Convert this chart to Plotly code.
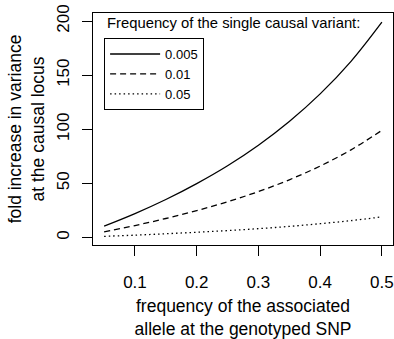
import plotly.graph_objects as go

# frequency of the associated allele at the genotyped SNP
snp_freq = [0.05, 0.10, 0.15, 0.20, 0.25, 0.30, 0.35, 0.40, 0.45, 0.50]
# fold increase in variance, by causal variant frequency
fold_0005 = [10.5, 22.1, 35.1, 49.8, 66.3, 85.3, 107.2, 132.7, 162.8, 199.0]
fold_001 = [5.2, 11.0, 17.5, 24.8, 33.0, 42.4, 53.3, 66.0, 81.0, 99.0]
fold_005 = [1.0, 2.1, 3.4, 4.8, 6.3, 8.1, 10.2, 12.7, 15.5, 19.0]
series_names = ["0.005", "0.01", "0.05"]
x_ticks = [0.1, 0.2, 0.3, 0.4, 0.5]
y_ticks = [0, 50, 100, 150, 200]

FONT = "Liberation Sans, Arial, Helvetica, sans-serif"

fig = go.Figure()
styles = ["solid", "6px,4px", "1.5px,3px"]
for name, ys, dash in zip(series_names, [fold_0005, fold_001, fold_005], styles):
    fig.add_trace(go.Scatter(
        x=snp_freq, y=ys, mode="lines", name=name,
        line=dict(color="black", width=1.3, dash=dash, shape="spline"),
    ))

axis_common = dict(
    showline=True, linecolor="black", linewidth=1, mirror=True,
    ticks="outside", ticklen=10, tickwidth=1, tickcolor="black",
    showgrid=False, zeroline=False,
    tickfont=dict(family=FONT, size=17, color="black"),
    title_font=dict(family=FONT, size=17.5, color="black"),
)

fig.update_layout(
    width=394, height=339,
    margin=dict(l=93, r=1, t=13, b=94),
    paper_bgcolor="white", plot_bgcolor="white",
    font=dict(family=FONT, color="black"),
    xaxis=dict(range=[0.032, 0.518], tickvals=x_ticks, ticktext=[str(v) for v in x_ticks],
               ticklabelstandoff=12,
               title=dict(text="frequency of the associated<br>allele at the genotyped SNP", standoff=8),
               **axis_common),
    yaxis=dict(range=[-7, 207.5], tickvals=y_ticks, tickangle=-90,
               ticklabelstandoff=6,
               title=dict(text="fold increase in variance<br>at the causal locus", standoff=5),
               **axis_common),
    legend=dict(x=0.037, y=0.892, xanchor="left", yanchor="top",
                bgcolor="white", bordercolor="black", borderwidth=1,
                font=dict(family=FONT, size=13, color="black"),
                itemwidth=50, tracegroupgap=0),
    showlegend=True,
    annotations=[dict(
        text="Frequency of the single causal variant:", x=0.04, y=0.957,
        xref="paper", yref="paper", xanchor="left", yanchor="middle",
        showarrow=False, font=dict(family=FONT, size=14.8, color="black"),
    )],
)

fig.write_html("out.html")
